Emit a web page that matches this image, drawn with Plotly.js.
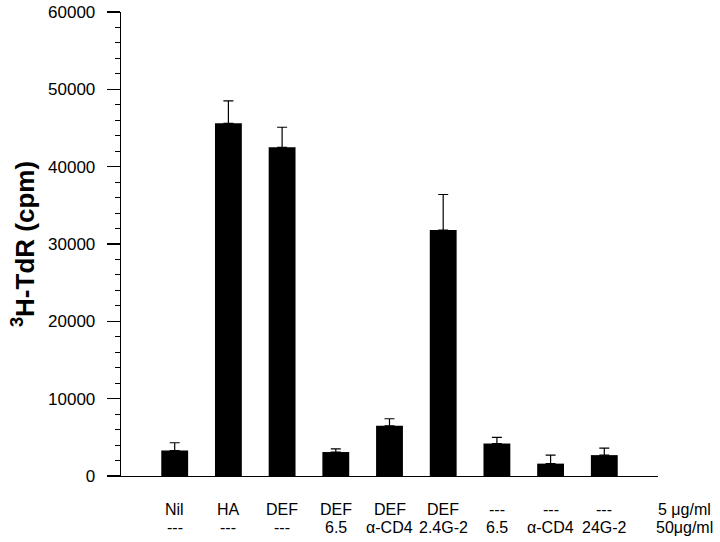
<!DOCTYPE html>
<html>
<head>
<meta charset="utf-8">
<script src="https://cdn.plot.ly/plotly-3.0.1.min.js"></script>
<style>
  body { margin: 0; background: #fff; }
  #chart { width: 720px; height: 542px; }
</style>
</head>
<body>
<div id="chart"></div>
<script>
// treatments (row 1 = 5 ug/ml, row 2 = 50 ug/ml)
var row1 = ['Nil', 'HA', 'DEF', 'DEF', 'DEF', 'DEF', '---', '---', '---'];
var row2 = ['---', '---', '---', '6.5', '\u03b1-CD4', '2.4G-2', '6.5', '\u03b1-CD4', '24G-2'];
var rowUnits = ['5 \u03bcg/ml', '50\u03bcg/ml'];

var cpm = [3300, 45600, 42500, 3100, 6500, 31800, 4200, 1600, 2700];
var cpmErr = [1000, 2900, 2600, 400, 900, 4600, 800, 1100, 900];

var pos = row1.map(function (d, i) { return i; });
var xRange = [-1, 9];
var unitPos = 9.5;

var trace = {
    x: pos,
    y: cpm,
    type: 'bar',
    width: 0.5,
    marker: { color: '#000', line: { color: '#000', width: 0 } },
    error_y: {
        type: 'data',
        symmetric: false,
        array: cpmErr,
        arrayminus: cpm.map(function () { return 0; }),
        color: '#000',
        thickness: 1.2,
        width: 5
    },
    hoverinfo: 'none'
};

var fam = '"Liberation Sans", Arial, sans-serif';
var lblFont = { family: fam, size: 16, color: '#000' };

function label(x, xref, text, shift) {
    return { x: x, y: 0, xref: xref, yref: 'paper', text: text, showarrow: false,
        xanchor: 'center', yanchor: 'middle', yshift: shift, font: lblFont };
}

var annotations = [];
row1.forEach(function (t, i) {
    annotations.push(label(pos[i], 'x', t, -33));
    annotations.push(label(pos[i], 'x', row2[i], -51));
});
// unit column sits past the end of the axis, so place it in paper units
var unitPaper = (unitPos - xRange[0]) / (xRange[1] - xRange[0]);
annotations.push(label(unitPaper, 'paper', rowUnits[0], -33));
annotations.push(label(unitPaper, 'paper', rowUnits[1], -51));

var layout = {
    width: 720,
    height: 542,
    margin: { l: 121, r: 62, t: 12, b: 66 },
    paper_bgcolor: '#fff',
    plot_bgcolor: '#fff',
    showlegend: false,
    font: { family: fam, color: '#000' },
    xaxis: {
        range: xRange,
        showticklabels: false,
        ticks: '',
        showgrid: false,
        zeroline: false,
        showline: true,
        linecolor: '#000',
        linewidth: 1.3,
        fixedrange: true
    },
    yaxis: {
        range: [0, 60000],
        dtick: 10000,
        tickformat: 'd',
        ticks: 'outside',
        ticklen: 13,
        tickwidth: 1.3,
        tickcolor: '#000',
        ticklabelstandoff: 8,
        minor: { dtick: 2000, ticks: 'outside', ticklen: 5, tickwidth: 1, tickcolor: '#000' },
        showgrid: false,
        zeroline: false,
        showline: true,
        linecolor: '#000',
        linewidth: 1.3,
        tickfont: { family: fam, size: 17, color: '#000' },
        title: {
            text: '<b><sup>3</sup>H-TdR (cpm)</b>',
            font: { family: fam, size: 26, color: '#000' },
            standoff: 6
        },
        automargin: false,
        fixedrange: true
    },
    annotations: annotations
};

Plotly.newPlot('chart', [trace], layout, { displayModeBar: false, staticPlot: true });
</script>
</body>
</html>
